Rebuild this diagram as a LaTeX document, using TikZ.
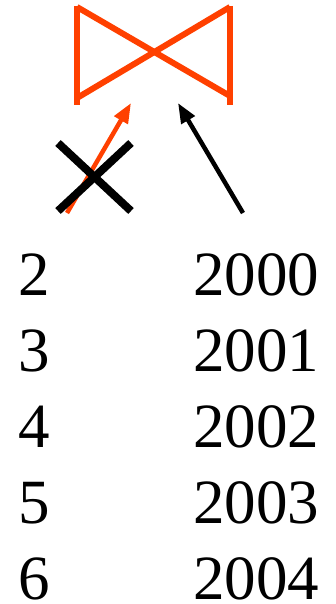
\documentclass[tikz,border=0pt]{standalone}
\usepackage{fontspec}
\setmainfont{Liberation Serif}
\usetikzlibrary{arrows.meta, positioning}
\definecolor{bowred}{RGB}{255,64,0}

\begin{document}
\begin{tikzpicture}[
    x=1pt, y=-1pt,
    num/.style={anchor=base west, inner sep=0pt, font=\fontsize{63}{70}\selectfont},
    bow/.style={draw=bowred, line width=6pt},
    arrow/.style={-{Triangle[length=20pt,width=15pt]}, line width=4.5pt},
    cross/.style={line width=8pt}
]
\useasboundingbox (0,0) rectangle (336,604);
% bowtie
\draw[bow] (77,6) -- (77,105);
\draw[bow] (230,6) -- (230,105);
\draw[bow] (77,7) -- (230,96);
\draw[bow] (77,98) -- (230,7);
% arrow ends
\coordinate (redtail) at (67,213);
\coordinate (redtip) at (131,103);
\coordinate (blacktail) at (243,213);
\coordinate (blacktip) at (178,103);
\draw[arrow, bowred] (redtail) -- (redtip);
\draw[arrow, black] (blacktail) -- (blacktip);
% cross
\draw[cross] (58,143) -- (131,211);
\draw[cross] (58,211) -- (131,143);
% columns
\foreach \i/\y in {2/295, 3/371, 4/447, 5/523, 6/599} {
    \node[num] (n\i) at (18,\y) {\i};
}
\foreach \i/\yr/\y in {2/2000/295, 3/2001/371, 4/2002/447, 5/2003/523, 6/2004/599} {
    \node[num] (y\i) at (193,\y) {\yr};
}
\end{tikzpicture}
\end{document}
